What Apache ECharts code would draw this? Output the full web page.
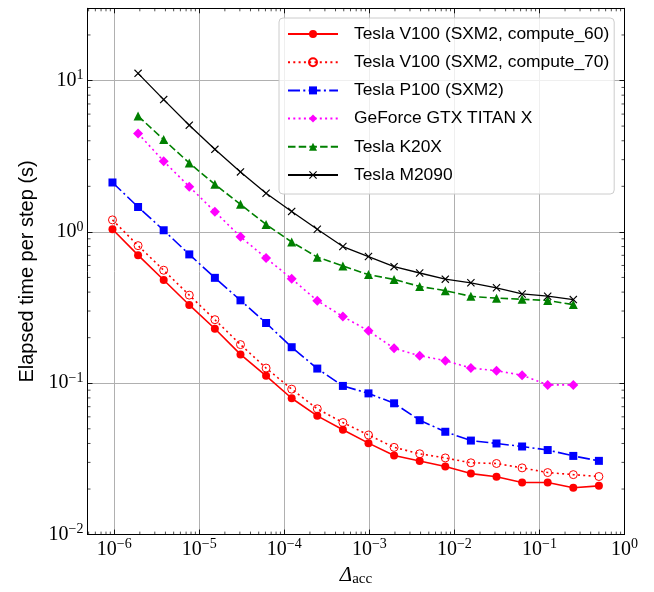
<!DOCTYPE html>
<html>
<head>
<meta charset="utf-8">
<script src="https://cdn.jsdelivr.net/npm/echarts@6/dist/echarts.min.js"></script>
<style>
  html, body { margin: 0; padding: 0; background: #ffffff; }
  #chart { width: 654px; height: 592px; }
</style>
</head>
<body>
<div id="chart"></div>
<script>
// Accuracy parameter Δacc = 2^-20 ... 2^-1
const deltaAcc = [
  9.5367431640625e-7, 1.9073486328125e-6, 3.814697265625e-6, 7.62939453125e-6,
  1.52587890625e-5, 3.0517578125e-5, 6.103515625e-5, 1.220703125e-4,
  2.44140625e-4, 4.8828125e-4, 9.765625e-4, 1.953125e-3,
  3.90625e-3, 7.8125e-3, 1.5625e-2, 3.125e-2,
  6.25e-2, 0.125, 0.25, 0.5
];
// Older GPUs were measured from 2^-19 to 2^-2
const deltaAccShort = deltaAcc.slice(1, 19);

// Elapsed time per step (s)
const v100c60 = [1.04, 0.702, 0.481, 0.329, 0.229, 0.155, 0.112, 0.0796, 0.0609, 0.0493,
                 0.0402, 0.0333, 0.0306, 0.0282, 0.0253, 0.0241, 0.0221, 0.0221, 0.0204, 0.0210];
const v100c70 = [1.20, 0.811, 0.558, 0.382, 0.263, 0.180, 0.126, 0.0914, 0.0678, 0.0550,
                 0.0455, 0.0377, 0.0342, 0.0321, 0.0298, 0.0295, 0.0276, 0.0257, 0.0249, 0.0242];
const p100 = [2.12, 1.46, 1.025, 0.710, 0.497, 0.353, 0.250, 0.173, 0.125, 0.0960,
              0.0857, 0.0737, 0.0570, 0.0478, 0.0418, 0.0400, 0.0382, 0.0362, 0.0331, 0.0307];
const titanX = [4.47, 2.93, 1.99, 1.36, 0.928, 0.671, 0.490, 0.351, 0.276, 0.222,
                0.170, 0.152, 0.141, 0.126, 0.121, 0.113, 0.0975, 0.0975];
const k20x = [5.83, 4.07, 2.85, 2.06, 1.52, 1.12, 0.857, 0.681, 0.595, 0.522,
              0.485, 0.436, 0.409, 0.375, 0.365, 0.359, 0.352, 0.331];
const m2090 = [11.15, 7.48, 5.07, 3.51, 2.49, 1.80, 1.365, 1.04, 0.80, 0.687,
               0.589, 0.535, 0.487, 0.461, 0.427, 0.389, 0.376, 0.357];

const seriesNames = [
  'Tesla V100 (SXM2, compute_60)',
  'Tesla V100 (SXM2, compute_70)',
  'Tesla P100 (SXM2)',
  'GeForce GTX TITAN X',
  'Tesla K20X',
  'Tesla M2090'
];

// Axis ranges
const xMin = 4.85e-7, xMax = 1;
const yMin = 0.01, yMax = 30;

// Minor tick positions (2..9 x 10^n) inside the axis ranges
function minorTicks(lo, hi) {
  const out = [];
  for (let e = Math.floor(Math.log10(lo)); e <= Math.ceil(Math.log10(hi)); e++) {
    for (let m = 2; m <= 9; m++) {
      const v = m * Math.pow(10, e);
      if (v > lo * 1.0001 && v < hi * 0.9999) out.push(v);
    }
  }
  return out;
}
const xMinor = minorTicks(xMin, xMax);
const yMinor = minorTicks(yMin, yMax);

const pair = (xs, ys) => ys.map((y, i) => [xs[i], y]);

const serif = 'Liberation Serif';
const sans = 'Liberation Sans';

function powLabel(value) {
  const e = Math.log10(value);
  const r = Math.round(e);
  if (Math.abs(e - r) > 1e-6) return '';
  const exp = r < 0 ? '\u2212' + (-r) : String(r);
  return '{b|10}{s|' + exp + '}';
}
const powRich = {
  b: { fontFamily: serif, fontSize: 20, lineHeight: 24, color: '#000' },
  s: { fontFamily: serif, fontSize: 14, lineHeight: 12, verticalAlign: 'top', color: '#000' }
};

function logAxis(kind, position, withLabels) {
  const isX = kind === 'x';
  return {
    type: 'log',
    logBase: 10,
    position: position,
    min: isX ? xMin : yMin,
    max: isX ? xMax : yMax,
    axisLine: { show: true, onZero: false, lineStyle: { color: '#000', width: 1 } },
    axisTick: { show: true, inside: true, length: 5, lineStyle: { color: '#000', width: 0.9 } },
    splitLine: { show: withLabels, lineStyle: { color: '#b0b0b0', width: 1 } },
    axisLabel: withLabels
      ? { show: true, margin: isX ? 3 : 4, formatter: powLabel, rich: powRich,
          showMinLabel: true, showMaxLabel: true, hideOverlap: false }
      : { show: false }
  };
}

const lineW = 1.6;
const mSize = 8;
const crossPath = 'path://M0,1L1,0L5,4L9,0L10,1L6,5L10,9L9,10L5,6L1,10L0,9L4,5Z';

const seriesDefs = [
  { name: seriesNames[0], data: pair(deltaAcc, v100c60), color: '#ff0000', dash: 'solid',
    symbol: 'circle', size: mSize, fill: '#ff0000' },
  { name: seriesNames[1], data: pair(deltaAcc, v100c70), color: '#ff0000', dash: [2, 3.3],
    symbol: 'circle', size: mSize, fill: 'rgba(255,255,255,0)', border: 1 },
  { name: seriesNames[2], data: pair(deltaAcc, p100), color: '#0000ff', dash: [12, 3.3, 2, 3.3],
    symbol: 'rect', size: mSize, fill: '#0000ff' },
  { name: seriesNames[3], data: pair(deltaAccShort, titanX), color: '#ff00ff', dash: [2, 3.3],
    symbol: 'diamond', size: 10, fill: '#ff00ff' },
  { name: seriesNames[4], data: pair(deltaAccShort, k20x), color: '#008000', dash: [7.5, 3.2],
    symbol: 'triangle', size: 9, fill: '#008000' },
  { name: seriesNames[5], data: pair(deltaAccShort, m2090), color: '#000000', dash: 'solid',
    symbol: crossPath, size: 8, fill: '#000000', width: 1.3 }
];

const series = seriesDefs.map(d => ({
  type: 'line',
  name: d.name,
  xAxisIndex: 0,
  yAxisIndex: 0,
  data: d.data,
  symbol: d.symbol,
  symbolSize: d.size,
  showSymbol: true,
  showAllSymbol: true,
  clip: true,
  z: 5,
  lineStyle: { color: d.color, width: d.width || lineW, type: d.dash },
  itemStyle: d.border
    ? { color: d.fill, borderColor: d.color, borderWidth: d.border }
    : { color: d.fill, borderWidth: 0 },
  emphasis: { disabled: true }
}));

// Minor ticks on all four sides, drawn inward like the major ticks
series.push({
  type: 'custom',
  xAxisIndex: 0, yAxisIndex: 0,
  silent: true, z: 10,
  data: xMinor.map(v => [v, 1]),
  renderItem: (params, api) => {
    const cs = params.coordSys;
    const px = api.coord([api.value(0), api.value(1)])[0];
    const yb = cs.y + cs.height, yt = cs.y;
    const st = { stroke: '#000', lineWidth: 0.7 };
    return { type: 'group', children: [
      { type: 'line', shape: { x1: px, y1: yb, x2: px, y2: yb - 3 }, style: st },
      { type: 'line', shape: { x1: px, y1: yt, x2: px, y2: yt + 3 }, style: st }
    ] };
  }
});
series.push({
  type: 'custom',
  xAxisIndex: 0, yAxisIndex: 0,
  silent: true, z: 10,
  data: yMinor.map(v => [1e-3, v]),
  renderItem: (params, api) => {
    const cs = params.coordSys;
    const py = api.coord([api.value(0), api.value(1)])[1];
    const xl = cs.x, xr = cs.x + cs.width;
    const st = { stroke: '#000', lineWidth: 0.7 };
    return { type: 'group', children: [
      { type: 'line', shape: { x1: xl, y1: py, x2: xl + 3, y2: py }, style: st },
      { type: 'line', shape: { x1: xr, y1: py, x2: xr - 3, y2: py }, style: st }
    ] };
  }
});

const xBottom = logAxis('x', 'bottom', true);
xBottom.name = '{d|\u0394}{a|acc}';
xBottom.nameLocation = 'middle';
xBottom.nameGap = 26;
xBottom.nameTextStyle = {
  rich: {
    d: { fontFamily: serif, fontStyle: 'italic', fontSize: 21, lineHeight: 24, color: '#000' },
    a: { fontFamily: serif, fontSize: 15, lineHeight: 12, verticalAlign: 'bottom', color: '#000' }
  }
};

const yLeft = logAxis('y', 'left', true);
yLeft.name = 'Elapsed time per step (s)';
yLeft.nameLocation = 'middle';
yLeft.nameGap = 48;
yLeft.nameTextStyle = { fontFamily: sans, fontSize: 20, color: '#000' };

const option = {
  animation: false,
  backgroundColor: '#ffffff',
  grid: { left: 87.5, top: 8.3, width: 537, height: 535.4, containLabel: false },
  xAxis: [xBottom, logAxis('x', 'top', false)],
  yAxis: [yLeft, logAxis('y', 'right', false)],
  legend: {
    data: seriesNames,
    orient: 'vertical',
    left: 279,
    top: 18,
    padding: [7, 5, 10, 8],
    itemWidth: 50,
    itemHeight: 10,
    itemGap: 10.2,
    backgroundColor: 'rgba(255,255,255,0.8)',
    borderColor: '#cccccc',
    borderWidth: 1,
    borderRadius: 4,
    selectedMode: false,
    textStyle: { fontFamily: sans, fontSize: 17.4, lineHeight: 18, color: '#000', padding: [0, 0, 0, 11] }
  },
  series: series
};

const chart = echarts.init(document.getElementById('chart'), null, { renderer: 'canvas' });
chart.setOption(option);
</script>
</body>
</html>
